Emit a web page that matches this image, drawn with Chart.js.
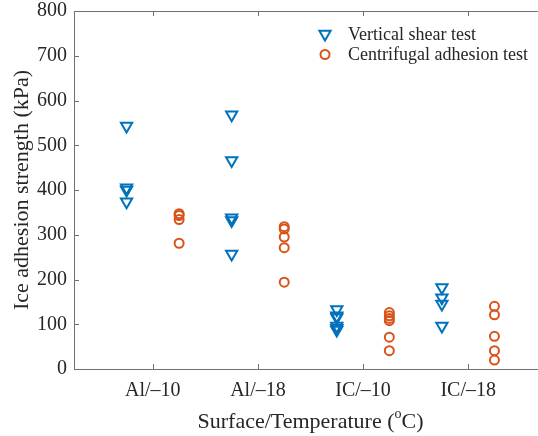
<!DOCTYPE html>
<html>
<head>
<meta charset="utf-8">
<script src="https://cdn.jsdelivr.net/npm/chart.js@4.4.1/dist/chart.umd.min.js"></script>
<style>
  html, body { margin: 0; padding: 0; background: #fff; overflow: hidden; }
  #wrap { width: 560px; height: 436px; }
</style>
</head>
<body>
<div id="wrap"><canvas id="chart1"></canvas></div>
<script>
// categories on the x axis
const categories = ['Al/\u201310', 'Al/\u201318', 'IC/\u201310', 'IC/\u201318'];
// ice adhesion strength (kPa), one list per category
const shearValues = [
  [543, 405, 400, 374],
  [568, 466, 338, 332, 257],
  [133, 119, 115, 96, 91, 87],
  [182, 159, 145, 96]
];
const centrifugalValues = [
  [347, 343, 334, 281],
  [318, 313, 295, 271, 194],
  [126, 119, 113, 108, 71, 41],
  [140, 121, 73, 41, 20]
];
const yTicks = [0, 100, 200, 300, 400, 500, 600, 700, 800];

const blue = '#0072BD';
const orange = '#D95319';
const textColor = '#262626';
const axisColor = '#707070';
const fontFamily = "'Liberation Serif', 'Times New Roman', serif";

// points sit a quarter of a category either side of the tick
function toPoints(groups, shift) {
  const pts = [];
  groups.forEach((vals, i) => {
    vals.forEach(v => pts.push({ x: i + 1 + shift, y: v }));
  });
  return pts;
}

// box with inward ticks, like the original figure
const frame = {
  id: 'frame',
  afterDraw(chart) {
    const { ctx, chartArea: a, scales } = chart;
    ctx.save();
    ctx.strokeStyle = axisColor;
    ctx.lineWidth = 1;
    ctx.beginPath();
    ctx.rect(Math.round(a.left) + 0.5, Math.round(a.top) + 0.5, Math.round(a.right - a.left), Math.round(a.bottom - a.top));
    yTicks.forEach(v => {
      const y = Math.round(scales.y.getPixelForValue(v)) + 0.5;
      ctx.moveTo(a.left, y); ctx.lineTo(a.left + 5, y);
      ctx.moveTo(a.right, y); ctx.lineTo(a.right - 5, y);
    });
    categories.forEach((c, i) => {
      const x = Math.round(scales.x.getPixelForValue(i + 1)) + 0.5;
      ctx.moveTo(x, a.bottom); ctx.lineTo(x, a.bottom - 5);
      ctx.moveTo(x, a.top); ctx.lineTo(x, a.top + 5);
    });
    ctx.stroke();

    // x axis title with superscript o
    const cx = (a.left + a.right) / 2;
    const cy = 422;
    const big = '22px ' + fontFamily;
    const small = '14px ' + fontFamily;
    const p1 = 'Surface/Temperature (', p2 = 'o', p3 = 'C)';
    ctx.font = big; const w1 = ctx.measureText(p1).width, w3 = ctx.measureText(p3).width;
    ctx.font = small; const w2 = ctx.measureText(p2).width;
    let x = cx - (w1 + w2 + w3) / 2;
    ctx.fillStyle = textColor;
    ctx.textBaseline = 'middle';
    ctx.textAlign = 'left';
    ctx.font = big; ctx.fillText(p1, x, cy); x += w1;
    ctx.font = small; ctx.fillText(p2, x, cy - 8); x += w2;
    ctx.font = big; ctx.fillText(p3, x, cy);

    // legend inside the plot
    chart.data.datasets.forEach((d, i) => {
      const ly = 34 + i * 20.5;
      const mx = 325;
      const opts = {
        pointStyle: d.pointStyle, rotation: d.pointRotation || 0,
        radius: d.pointRadius, borderWidth: d.pointBorderWidth
      };
      ctx.strokeStyle = d.borderColor;
      ctx.fillStyle = 'rgba(0,0,0,0)';
      ctx.lineWidth = d.pointBorderWidth;
      Chart.helpers.drawPoint(ctx, opts, mx, ly);
      ctx.fillStyle = textColor;
      ctx.font = '18px ' + fontFamily;
      ctx.fillText(d.label, 348, ly + 1);
    });
    ctx.restore();
  }
};

const ctx1 = document.getElementById('chart1');
new Chart(ctx1, {
  type: 'scatter',
  data: {
    datasets: [{
      label: 'Vertical shear test',
      data: toPoints(shearValues, -0.25),
      pointStyle: 'triangle',
      pointRotation: 180,
      pointRadius: 6.5,
      pointBorderWidth: 2,
      borderColor: blue,
      backgroundColor: 'rgba(0,0,0,0)'
    }, {
      label: 'Centrifugal adhesion test',
      data: toPoints(centrifugalValues, 0.25),
      pointStyle: 'circle',
      pointRadius: 4.5,
      pointBorderWidth: 2,
      borderColor: orange,
      backgroundColor: 'rgba(0,0,0,0)'
    }]
  },
  plugins: [frame],
  options: {
    responsive: true,
    maintainAspectRatio: false,
    animation: false,
    events: [],
    layout: { padding: { top: 11, right: 13, bottom: 0, left: 0 } },
    plugins: {
      legend: { display: false },
      tooltip: { enabled: false }
    },
    scales: {
      x: {
        type: 'linear',
        min: 0.25,
        max: 4.75,
        afterBuildTicks: s => { s.ticks = categories.map((c, i) => ({ value: i + 1 })); },
        afterFit: s => { s.height = 67; s.paddingLeft = 0; s.paddingRight = 0; },
        grid: { display: false, drawTicks: false },
        border: { display: false },
        ticks: {
          padding: 10,
          color: textColor,
          font: { family: fontFamily, size: 20 },
          maxRotation: 0,
          callback: v => categories[Math.round(v) - 1]
        }
      },
      y: {
        min: 0,
        max: 800,
        afterBuildTicks: s => { s.ticks = yTicks.map(v => ({ value: v })); },
        afterFit: s => { s.width = 74; s.paddingTop = 0; s.paddingBottom = 0; },
        grid: { display: false, drawTicks: false },
        border: { display: false },
        ticks: {
          padding: 7,
          color: textColor,
          font: { family: fontFamily, size: 20 }
        },
        title: {
          display: true,
          text: 'Ice adhesion strength (kPa)',
          color: textColor,
          font: { family: fontFamily, size: 22 },
          padding: { top: 9, bottom: 0 }
        }
      }
    }
  }
});
</script>
</body>
</html>
